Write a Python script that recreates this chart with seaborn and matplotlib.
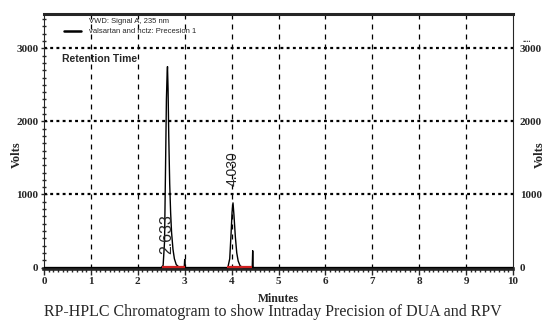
import numpy as np
import pandas as pd
import matplotlib
matplotlib.use('Agg')
import matplotlib.pyplot as plt
from matplotlib.ticker import MultipleLocator
import seaborn as sns

# chromatogram trace (minutes, volts)
minutes = [0.0, 2.50, 2.54, 2.57, 2.59, 2.61, 2.625, 2.633, 2.645, 2.66, 2.68, 2.70,
           2.72, 2.75, 2.78, 2.82, 2.88, 2.99, 3.0, 3.01, 3.92, 3.96, 3.99, 4.01,
           4.03, 4.05, 4.08, 4.11, 4.14, 4.18, 4.24, 4.44, 4.45, 4.46, 10.0]
volts = [0, 0, 30, 350, 1300, 2300, 2650, 2750, 2450, 1800, 1150, 750,
         480, 250, 120, 40, 5, 0, 110, 0, 0, 120, 480, 760,
         885, 720, 420, 200, 90, 25, 0, 0, 230, 0, 0]

peak_times = [2.633, 4.030]
peak_labels = ['2.633', '4.030']
label_volts = [460, 1350]
label_sizes = [11.5, 10]
baseline_segments = [(2.51, 3.0), (3.90, 4.43)]

y_ticks = [0, 1000, 2000, 3000]
x_ticks = list(range(0, 11))

df = pd.DataFrame({'Minutes': minutes, 'Volts': volts})

sns.set_theme(style='ticks')
plt.rcParams['font.family'] = ['Liberation Serif', 'DejaVu Serif']
sans = ['Liberation Sans', 'DejaVu Sans']

fig = plt.figure(figsize=(5.45, 3.24), dpi=100)
ax = fig.add_axes([44 / 545, 1 - 269 / 324, (513 - 44) / 545, (269 - 14) / 324])

# grid
for x in x_ticks[1:-1]:
    ax.axvline(x, color='black', lw=0.9, ls=(0, (4, 4)), zorder=1)
for y in y_ticks[1:]:
    ax.axhline(y, color='black', lw=1.6, ls=(0, (1.3, 1.5)), zorder=1)

sns.lineplot(data=df, x='Minutes', y='Volts', ax=ax, color='black', lw=1.0,
             estimator=None, sort=False, zorder=3)

for a, b in baseline_segments:
    ax.plot([a, b], [8, 8], color='#d02020', lw=1.6, zorder=4, solid_capstyle='butt')

for t, lab, v, fs in zip(peak_times, peak_labels, label_volts, label_sizes):
    ax.text(t - 0.01, v, lab, rotation=90, ha='center', va='center', fontsize=fs,
            family=sans, zorder=5)

ax.set_xlim(0, 10)
ax.set_ylim(-20, 3470)
ax.set_xticks(x_ticks)
ax.set_yticks(y_ticks)
ax.xaxis.set_minor_locator(MultipleLocator(0.1))
ax.yaxis.set_minor_locator(MultipleLocator(100))
ax.tick_params(axis='both', which='major', labelsize=8, length=4, width=1, direction='out', pad=2)
ax.tick_params(axis='both', which='minor', length=2.5, width=1, direction='out')
ax.tick_params(axis='y', which='both', right=True, direction='inout')
for lab in ax.get_xticklabels() + ax.get_yticklabels():
    lab.set_fontweight('bold')

ax.spines['top'].set_linewidth(2.2)
ax.spines['bottom'].set_linewidth(2.6)
ax.spines['left'].set_linewidth(0.8)
ax.spines['right'].set_linewidth(0.8)

ax.set_xlabel('Minutes', fontsize=8.5, fontweight='bold', labelpad=5)
ax.set_ylabel('Volts', fontsize=9, fontweight='bold')
ax.yaxis.set_label_coords(-0.045, 0.45)

ax2 = ax.twinx()
ax2.set_ylim(ax.get_ylim())
ax2.set_yticks(y_ticks)
ax2.tick_params(axis='y', labelsize=8, length=0, pad=5)
for lab in ax2.get_yticklabels():
    lab.set_fontweight('bold')
ax2.set_ylabel('Volts', fontsize=9, fontweight='bold')
ax2.yaxis.set_label_coords(1.045, 0.45)
for s in ax2.spines.values():
    s.set_visible(False)

# legend box contents
ax.plot([0.42, 0.78], [3240, 3240], color='black', lw=1.8, zorder=5)
ax.text(0.95, 3370, 'VWD: Signal A, 235 nm', fontsize=5.5, va='center', family=sans)
ax.text(0.95, 3230, 'valsartan and hctz: Precesion 1', fontsize=5.5, va='center', family=sans)
ax.text(0.38, 2860, 'Retention Time', fontsize=7.5, fontweight='bold', va='center', family=sans)

fig.text(527 / 545, 1 - 40 / 324, '....', ha='center', va='center', fontsize=6, fontweight='bold')
fig.text(0.5, 1 - 312 / 324, 'RP-HPLC Chromatogram to show Intraday Precision of DUA and RPV',
         ha='center', va='center', fontsize=11.5)

fig.savefig('out.png', dpi=100)
